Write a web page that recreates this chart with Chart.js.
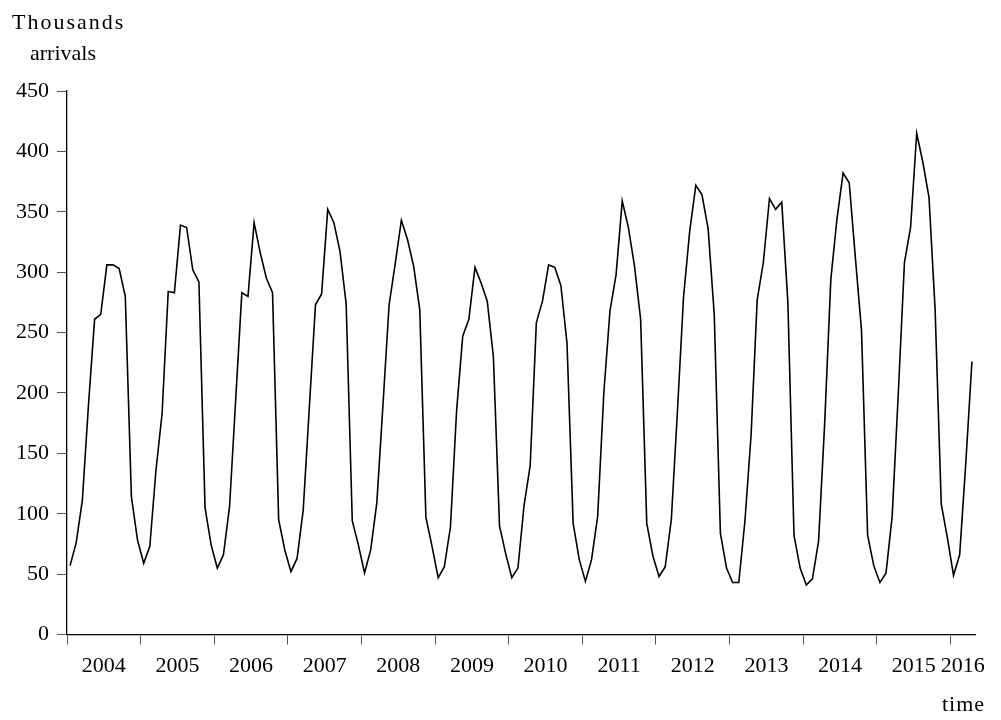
<!DOCTYPE html>
<html>
<head>
<meta charset="utf-8">
<script src="https://cdn.jsdelivr.net/npm/chart.js@4.4.1/dist/chart.umd.min.js"></script>
<style>
  html, body { margin: 0; padding: 0; background: #fff; }
  #wrap { width: 1001px; height: 720px; }
</style>
</head>
<body>
<div id="wrap"><canvas id="arrivalsChart" width="1001" height="720"></canvas></div>
<script>
// monthly arrivals, thousands
const arrivals2004 = [57, 76, 111, 190, 261, 265, 306, 306, 303, 280, 114, 78];
const arrivals2005 = [59, 73, 136, 183, 284, 283, 339, 337, 302, 292, 105, 74];
const arrivals2006 = [55, 66, 106, 195, 283, 280, 341, 316, 295, 283, 95, 70];
const arrivals2007 = [52, 63, 103, 188, 273, 282, 352, 341, 317, 274, 94, 74];
const arrivals2008 = [51, 70, 109, 190, 273, 307, 343, 327, 305, 269, 97, 73];
const arrivals2009 = [47, 56, 89, 185, 247, 261, 304, 291, 276, 230, 90, 67];
const arrivals2010 = [47, 55, 107, 140, 258, 276, 306, 304, 289, 241, 92, 62];
const arrivals2011 = [44, 62, 98, 200, 268, 298, 359, 337, 305, 261, 92, 65];
const arrivals2012 = [48, 56, 95, 185, 280, 334, 372, 364, 336, 265, 84, 55];
const arrivals2013 = [43, 43, 94, 165, 277, 308, 361, 352, 358, 275, 82, 55];
const arrivals2014 = [41, 46, 77, 175, 294, 344, 382, 374, 312, 252, 82, 57];
const arrivals2015 = [43, 51, 98, 200, 308, 337, 415, 391, 362, 269, 108, 80];
const arrivals2016 = [49, 66, 142, 226];

const years = ['2004', '2005', '2006', '2007', '2008', '2009', '2010',
               '2011', '2012', '2013', '2014', '2015', '2016'];
const yearlyData = [arrivals2004, arrivals2005, arrivals2006, arrivals2007,
                    arrivals2008, arrivals2009, arrivals2010, arrivals2011,
                    arrivals2012, arrivals2013, arrivals2014, arrivals2015,
                    arrivals2016];
const yTicks = [0, 50, 100, 150, 200, 250, 300, 350, 400, 450];

// month index -> point in the middle of its month slot
let points = [];
let yearStarts = [];
let yearLabelAt = {};
let m = 0;
yearlyData.forEach(function (arr, i) {
    yearStarts.push(m);
    yearLabelAt[m + arr.length / 2] = years[i];
    arr.forEach(function (v) {
        points.push({ x: m + 0.5, y: v });
        m++;
    });
});
const totalMonths = m;

const serif = '"Liberation Serif", "DejaVu Serif", serif';

const axisText = {
    id: 'axisText',
    afterDraw(chart) {
        const c = chart.ctx;
        c.save();
        c.fillStyle = '#000';
        c.font = '22px ' + serif;
        c.textBaseline = 'alphabetic';
        c.letterSpacing = '2px';
        c.fillText('Thousands', 12, 29);
        c.letterSpacing = '0px';
        c.fillText('arrivals', 30, 60);
        c.letterSpacing = '1px';
        c.fillText('time', 942, 711);
        c.restore();
    }
};

var ctx = document.getElementById('arrivalsChart').getContext('2d');
var arrivalsChart = new Chart(ctx, {
    type: 'line',
    data: {
        datasets: [{
            label: 'Arrivals',
            data: points,
            borderColor: '#000',
            borderWidth: 1.6,
            pointRadius: 0,
            tension: 0,
            fill: false
        }]
    },
    options: {
        responsive: false,
        animation: false,
        devicePixelRatio: 1,
        layout: { padding: { top: 91, right: 26, bottom: 0, left: 0 } },
        plugins: {
            legend: { display: false },
            tooltip: { enabled: false }
        },
        scales: {
            x: {
                type: 'linear',
                min: 0,
                max: totalMonths,
                afterBuildTicks: function (scale) {
                    let vals = yearStarts.concat(Object.keys(yearLabelAt).map(Number));
                    vals.sort(function (a, b) { return a - b; });
                    scale.ticks = vals.map(function (v) { return { value: v }; });
                },
                afterFit: function (scale) { scale.height = 720 - 634.5; },
                grid: {
                    drawOnChartArea: false,
                    drawTicks: true,
                    tickLength: 10,
                    lineWidth: 1,
                    tickColor: function (c) {
                        return yearStarts.includes(c.tick.value) ? '#555' : 'rgba(0,0,0,0)';
                    }
                },
                border: { color: '#000', width: 1.3 },
                ticks: {
                    autoSkip: false,
                    maxRotation: 0,
                    padding: 9,
                    color: '#000',
                    font: { family: serif, size: 22 },
                    callback: function (value) {
                        return yearLabelAt[value] || '';
                    }
                }
            },
            y: {
                min: 0,
                max: 450,
                afterBuildTicks: function (scale) {
                    scale.ticks = yTicks.map(function (v) { return { value: v }; });
                },
                afterFit: function (scale) { scale.width = 67; },
                grid: {
                    drawOnChartArea: false,
                    drawTicks: true,
                    tickLength: 10,
                    tickColor: '#555'
                },
                border: { color: '#000', width: 1.3 },
                ticks: {
                    padding: 8,
                    color: '#000',
                    font: { family: serif, size: 22 }
                }
            }
        }
    },
    plugins: [axisText]
});
</script>
</body>
</html>
